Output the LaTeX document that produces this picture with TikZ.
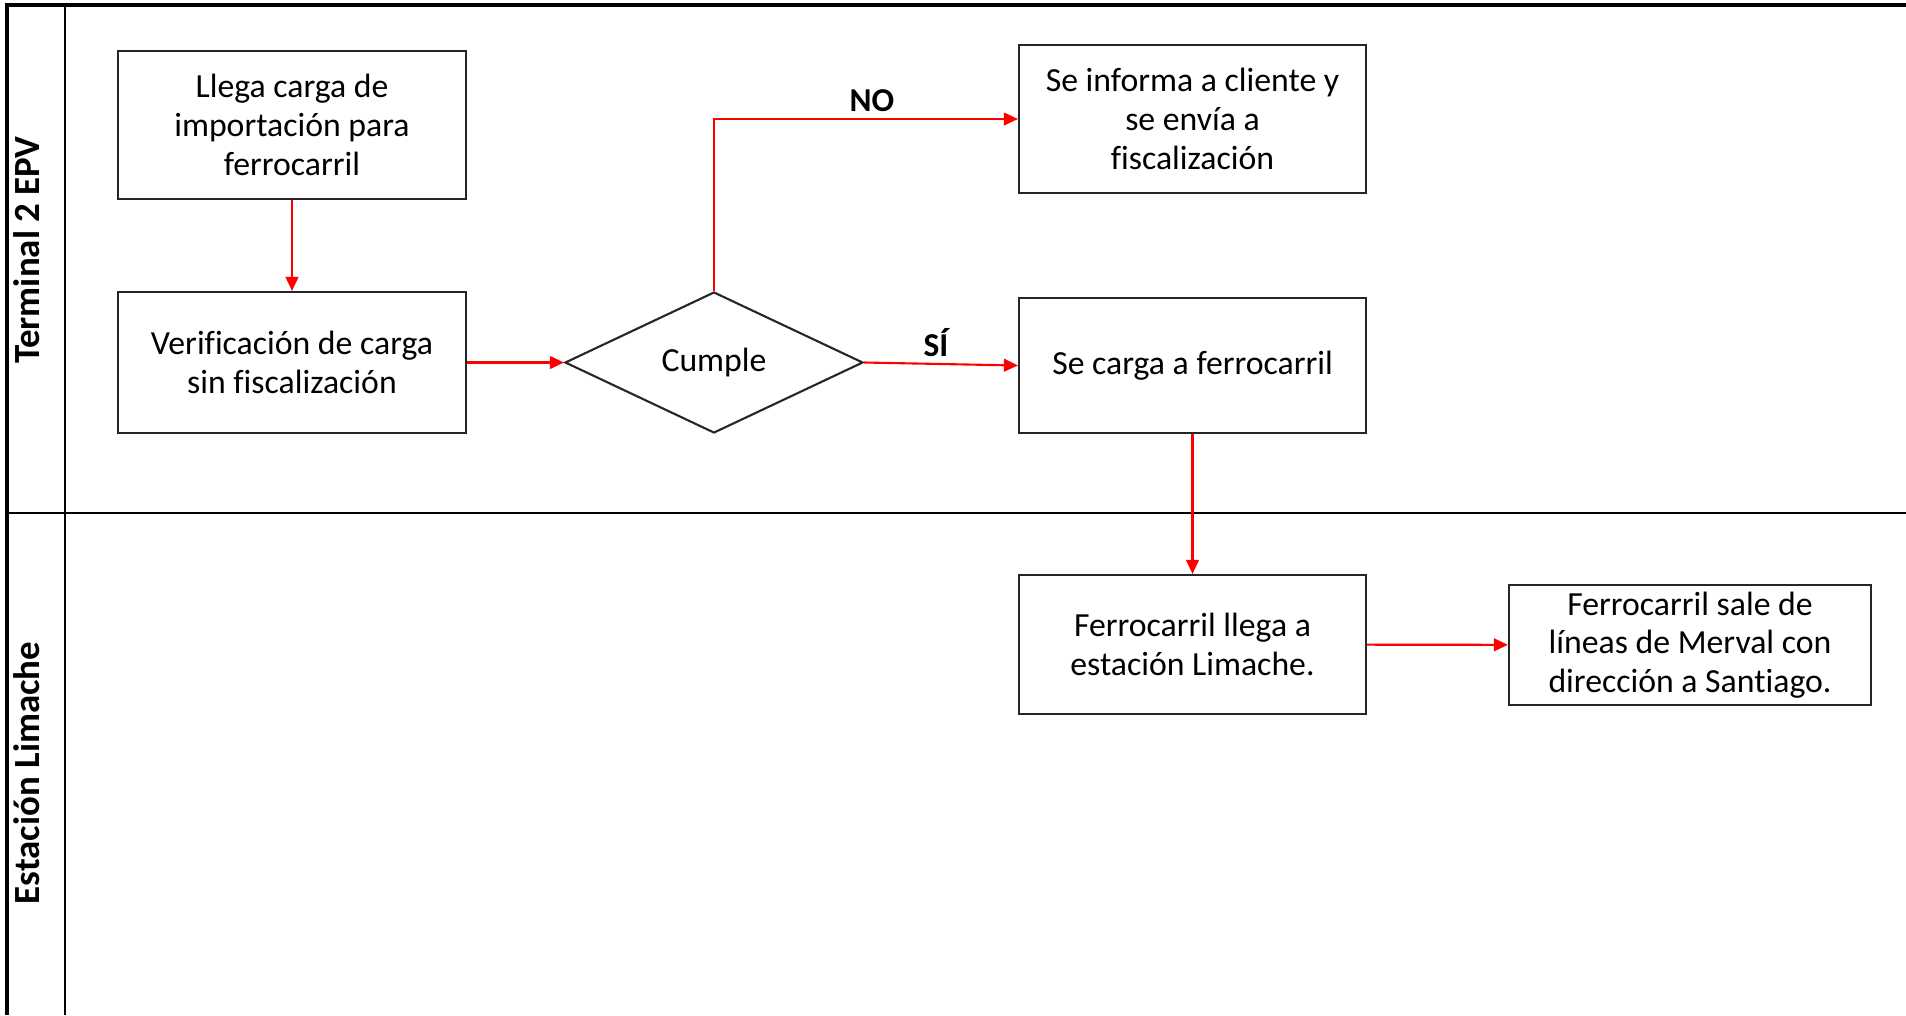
\documentclass[tikz,border=0pt]{standalone}
\usepackage{fontspec}
\setmainfont{Carlito}[Ligatures={NoCommon}]
\usetikzlibrary{arrows.meta,shapes.geometric}
\tikzset{
  paso/.style={draw=black!85,line width=0.6pt,align=center,inner sep=2pt,
    font=\fontsize{9.6}{11}\selectfont},
  flecha/.style={draw=red,line width=0.6pt,-{Triangle[length=4pt,width=3.6pt]}},
  carril/.style={rotate=90,font=\fontsize{10.5}{12}\selectfont\bfseries},
  rotulo/.style={font=\fontsize{9.5}{11}\selectfont\bfseries}
}
\begin{document}
\begin{tikzpicture}[x=1cm,y=1cm]
        \useasboundingbox (0,0) rectangle (19.06,10.15);
        % carriles
        \draw[line width=0.9pt] (19.06,10.10) -- (0.07,10.10) -- (0.07,0);
        \draw[line width=0.8pt] (0.65,10.10) -- (0.65,0);
        \draw[line width=0.8pt] (0.07,5.02) -- (19.06,5.02);
        \node[carril] (t2) at (0.27,7.65) {Terminal 2 EPV};
        \node[carril] (lim) at (0.27,2.42) {Estación Limache};
        % pasos
        \node[paso,minimum width=3.48cm,minimum height=1.48cm] (llega) at (2.92,8.90)
          {Llega carga de\\importación para\\ferrocarril};
        \node[paso,minimum width=3.48cm,minimum height=1.41cm] (verif) at (2.92,6.525)
          {Verificación de carga\\sin fiscalización};
        \node[paso,diamond,inner sep=0pt,minimum width=2.98cm,minimum height=1.41cm] (cumple) at (7.14,6.525) {Cumple};
        \node[paso,minimum width=3.47cm,minimum height=1.48cm] (informa) at (11.925,8.96)
          {Se informa a cliente y\\se envía a\\fiscalización};
        \node[paso,minimum width=3.47cm,minimum height=1.35cm] (carga) at (11.925,6.495)
          {Se carga a ferrocarril};
        \node[paso,minimum width=3.47cm,minimum height=1.39cm] (limache) at (11.925,3.705)
          {Ferrocarril llega a\\estación Limache.};
        \node[paso,minimum width=3.62cm,minimum height=1.10cm] (sale) at (16.90,3.70)
          {Ferrocarril sale de\\líneas de Merval con\\dirección a Santiago.};
        % flujo
        \draw[flecha] (llega) -- (verif);
        \draw[flecha] (verif) -- (cumple);
        \draw[flecha] (cumple.north) |- (informa.west);
        \draw[flecha] (cumple.east) -- (carga.west);
        \draw[flecha] (carga) -- (limache);
        \draw[flecha] (limache) -- (sale);
        \node[rotulo] (no) at (8.72,9.14) {NO};
        \node[rotulo] (si) at (9.36,6.72) {SÍ};
      \end{tikzpicture}
\end{document}
